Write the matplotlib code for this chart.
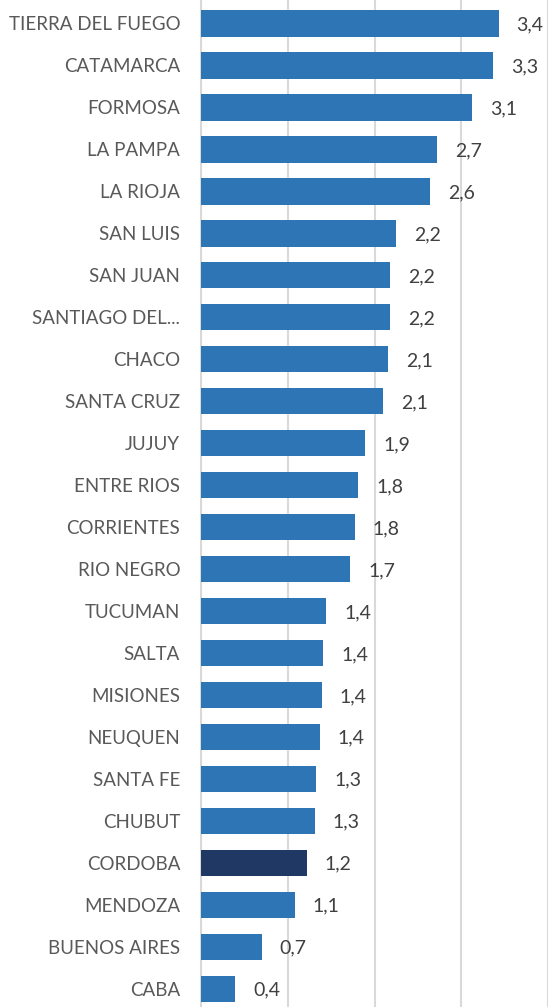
import matplotlib.pyplot as plt

provincias = ['TIERRA DEL FUEGO', 'CATAMARCA', 'FORMOSA', 'LA PAMPA', 'LA RIOJA',
              'SAN LUIS', 'SAN JUAN', 'SANTIAGO DEL...', 'CHACO', 'SANTA CRUZ',
              'JUJUY', 'ENTRE RIOS', 'CORRIENTES', 'RIO NEGRO', 'TUCUMAN', 'SALTA',
              'MISIONES', 'NEUQUEN', 'SANTA FE', 'CHUBUT', 'CORDOBA', 'MENDOZA',
              'BUENOS AIRES', 'CABA']
valores = [3.43, 3.37, 3.12, 2.72, 2.64, 2.25, 2.18, 2.18, 2.16, 2.10,
           1.89, 1.81, 1.77, 1.72, 1.44, 1.41, 1.39, 1.37, 1.33, 1.31,
           1.22, 1.08, 0.70, 0.39]
etiquetas = ['3,4', '3,3', '3,1', '2,7', '2,6', '2,2', '2,2', '2,2', '2,1', '2,1',
             '1,9', '1,8', '1,8', '1,7', '1,4', '1,4', '1,4', '1,4', '1,3', '1,3',
             '1,2', '1,1', '0,7', '0,4']

plt.rcParams['font.family'] = ['Lato', 'DejaVu Sans']

fig = plt.figure(figsize=(5.51, 10.07), dpi=100)
ax = fig.add_axes([201 / 551, 0, 347 / 551, 1])

colores = ['#1F3864' if p == 'CORDOBA' else '#2E75B6' for p in provincias]
y = list(range(len(provincias)))
ax.barh(y, valores, height=0.64, color=colores, zorder=3)

for yi, v, t in zip(y, valores, etiquetas):
    ax.annotate(t, (v, yi), xytext=(13, -1), textcoords='offset points',
                va='center', ha='left', fontsize=14, color='#404040')

ax.set_xlim(0, 4)
ax.set_ylim(23.43, -0.55)
ax.set_xticks([0, 1, 2, 3, 4])
ax.xaxis.grid(True, color='#D9D9D9', linewidth=1.5, zorder=0)
ax.tick_params(axis='x', bottom=False, labelbottom=False)
ax.set_yticks(y)
ax.set_yticklabels(provincias, fontsize=13.5, color='#595959')
ax.tick_params(axis='y', length=0, pad=15)
for s in ['top', 'right', 'bottom']:
    ax.spines[s].set_visible(False)
ax.spines['left'].set_color('#D9D9D9')
ax.spines['left'].set_linewidth(1.5)

fig.savefig('out.png', dpi=100)
